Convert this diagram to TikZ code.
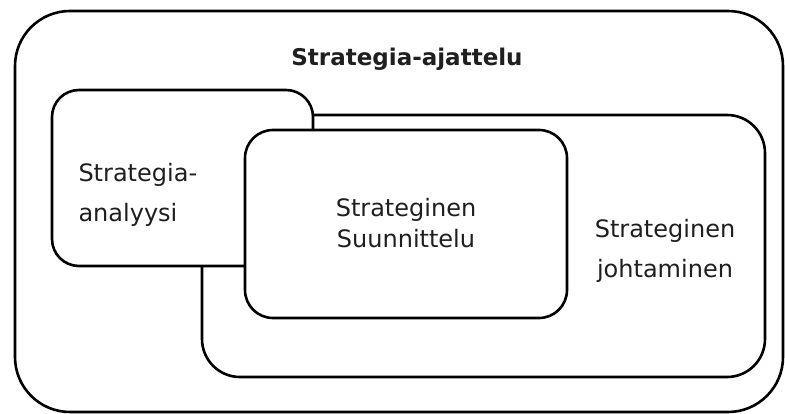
\documentclass[tikz,border=0pt]{standalone}
\usepackage{fontspec}
\setmainfont{DejaVu Sans}
\begin{document}
\begin{tikzpicture}[x=1pt,y=-1pt,
  frame/.style={draw=black, line width=2.6pt, fill=white, inner sep=0pt, outer sep=0pt},
  label/.style={inner sep=0pt, outer sep=0pt, text=black!88, font=\fontsize{24}{24}\selectfont},
  titlelabel/.style={label, font=\fontsize{23}{23}\selectfont\bfseries}]
  \useasboundingbox (0,0) rectangle (785,414);

  % nested scopes, back to front
  \node[frame, rounded corners=55pt, minimum width=768pt, minimum height=401pt] (outer) at (399,211.5) {};
  \node[frame, rounded corners=38pt, minimum width=563pt, minimum height=262pt] (johto) at (483.5,246) {};
  \node[frame, rounded corners=27pt, minimum width=261pt, minimum height=176pt] (analyysi) at (182.5,178) {};
  \node[frame, rounded corners=28pt, minimum width=322pt, minimum height=188pt] (suunn) at (406,224) {};

  % labels
  \node[titlelabel, anchor=base] (tAjattelu) at (407,66) {Strategia-ajattelu};
  \node[label, anchor=base west] (tAnal1) at (78.5,182) {Strategia-};
  \node[label, anchor=base west] (tAnal2) at (78.5,222) {analyysi};
  \node[label, anchor=base] (tSuun1) at (406,217) {Strateginen};
  \node[label, anchor=base] (tSuun2) at (406,248) {Suunnittelu};
  \node[label, anchor=base] (tJoht1) at (665,238) {Strateginen};
  \node[label, anchor=base] (tJoht2) at (665,278) {johtaminen};
\end{tikzpicture}
\end{document}
